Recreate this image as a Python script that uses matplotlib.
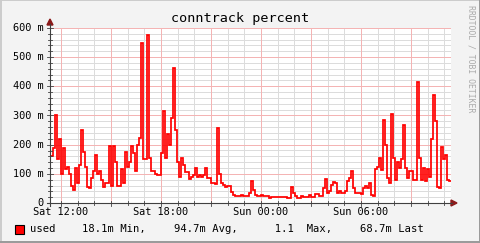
import matplotlib
matplotlib.use("Agg")
import matplotlib.pyplot as plt
from matplotlib.lines import Line2D
from matplotlib.patches import Polygon, Rectangle
import numpy as np

# ---------------- data ----------------
title = "conntrack percent"
series_name = "used"
start_hour = 11.4          # hours since Sat 00:00
step_hours = 0.12          # sample interval (7.2 min)
used_m = [
    160, 190, 300, 150, 220, 100, 190, 115, 125, 100, 60, 45, 120, 70, 130, 250, 175, 125, 55, 50,
    85, 110, 165, 100, 110, 80, 55,
    70, 70, 196, 58, 196, 140, 58, 60, 115, 70, 176, 125, 140, 196, 170, 110, 200, 222, 548, 150,
    150, 576, 155, 110, 110, 100, 95,
    95, 170, 315, 155, 235, 200, 290, 463, 250, 140, 90, 153, 130, 105, 105, 84, 88, 95, 120, 90,
    95, 90, 95, 120, 85, 85, 68, 68,
    65, 257, 100, 70, 62, 56, 58, 60, 38, 28, 25, 25, 25, 28, 25, 25, 25, 33, 75, 45, 28, 25, 25,
    28, 25, 25,
    25, 18, 20, 22, 22, 22, 22, 22, 22, 22, 18, 18, 56, 33, 25, 18, 18, 25, 22, 22, 22, 28, 22, 22,
    30, 30, 25, 25, 52,
    82, 35, 42, 62, 72, 69, 35, 40, 33, 35, 40, 75, 87, 110, 50, 35, 35, 35, 30, 52, 57, 52, 67, 28,
    25, 117, 125, 153,
    113, 285, 199, 86, 69, 305, 153, 80, 140, 120, 150, 267, 120, 85, 110, 110, 80, 80, 415, 153,
    80, 120, 75, 115, 90, 220, 370, 280, 55, 52, 193, 150, 165, 80, 75,
]
y_ticks = [0, 100, 200, 300, 400, 500, 600]
y_tick_labels = ["0", "100 m", "200 m", "300 m", "400 m", "500 m", "600 m"]
x_ticks = [12, 18, 24, 30]
x_tick_labels = ["Sat 12:00", "Sat 18:00", "Sun 00:00", "Sun 06:00"]
legend_stats = ["18.1m Min,", "94.7m Avg,", "  1.1  Max,", "68.7m Last"]

# ---------------- figure ----------------
W, H = 481, 243
FONT = "DejaVu Sans Mono"
fig = plt.figure(figsize=(W / 100, H / 100), dpi=100, facecolor="#F3F3F3")


def fx(x):
    return x / W


def fy(y):
    return 1 - y / H


# 3D frame
fig.add_artist(Line2D([0, 1], [fy(0.5), fy(0.5)], color="#CBCBCB", lw=1.4, transform=fig.transFigure))
fig.add_artist(Line2D([fx(0.5), fx(0.5)], [0, 1], color="#CBCBCB", lw=1.4, transform=fig.transFigure))
fig.add_artist(Line2D([0, 1], [fy(242.3), fy(242.3)], color="#999999", lw=1.4, transform=fig.transFigure))
fig.add_artist(Line2D([fx(480.3), fx(480.3)], [0, 1], color="#999999", lw=1.4, transform=fig.transFigure))

ax = fig.add_axes([fx(50), fy(203), 401 / W, 175 / H])
ax.set_facecolor("white")

vals = np.array(used_m, dtype=float)
t = start_hour + step_hours * np.arange(len(vals) + 1)
v = np.append(vals, vals[-1])

x0 = 12 + (50 - 61) * 0.06
x1 = 12 + (451 - 61) * 0.06
ax.set_xlim(x0, x1)
ax.set_ylim(0, 600)

# grids
dot = (0, (0.72, 0.72))
minor_col = "#DCDCDC"
major_col = "#F4B4B4"
for h in np.arange(12, 36, 1.0):
    if h % 3 != 0:
        ax.axvline(h, color=minor_col, lw=0.72, linestyle=dot, zorder=1, antialiased=False)
for yv in np.arange(20, 600, 20):
    if yv % 100 != 0:
        ax.axhline(yv, color=minor_col, lw=0.72, linestyle=dot, zorder=1, antialiased=False)
for h in np.arange(12, 36, 3.0):
    ax.axvline(h, color=major_col, lw=0.72, linestyle=dot, zorder=1.5, antialiased=False)
for yv in y_ticks[1:]:
    ax.axhline(yv, color=major_col, lw=0.72, linestyle=dot, zorder=1.5, antialiased=False)

ax.step(t, v, where="post", color="#FF0000", lw=1.25, zorder=3, solid_joinstyle="miter")

for s in ax.spines.values():
    s.set_visible(False)
ax.set_xticks([])
ax.set_yticks([])

# axes lines, ticks and arrows (figure pixels)
axis_col = "#404040"
fig.add_artist(Line2D([fx(50), fx(50)], [fy(206), fy(24)], color=axis_col, lw=0.8, transform=fig.transFigure))
fig.add_artist(Line2D([fx(47), fx(452)], [fy(203), fy(203)], color=axis_col, lw=0.8, transform=fig.transFigure))
arrow_col = "#8B1A1A"
fig.add_artist(Polygon([[fx(47), fy(25)], [fx(53), fy(25)], [fx(50), fy(19)]], closed=True,
                       color=arrow_col, transform=fig.transFigure))
fig.add_artist(Polygon([[fx(451), fy(200)], [fx(451), fy(206)], [fx(457), fy(203)]], closed=True,
                       color=arrow_col, transform=fig.transFigure))

# tick marks
for yv in np.arange(0, 620, 20):
    ypx = 203 - yv * 175 / 600
    ln = 2 if yv % 100 else 3
    fig.add_artist(Line2D([fx(50 - ln), fx(50 + ln)], [fy(ypx), fy(ypx)], color=axis_col, lw=0.6,
                          transform=fig.transFigure))
for h in np.arange(12, 36, 1.0):
    xpx = 61 + (h - 12) / 0.06
    ln = 3 if h % 3 == 0 else 2
    fig.add_artist(Line2D([fx(xpx), fx(xpx)], [fy(203 - 2), fy(203 + ln)], color=axis_col, lw=0.6,
                          transform=fig.transFigure))

# tick labels
for yv, lab in zip(y_ticks, y_tick_labels):
    ypx = 203 - yv * 175 / 600
    fig.text(fx(44), fy(ypx), lab, ha="right", va="center", family=FONT, fontsize=7.4, color="black")
for h, lab in zip(x_ticks, x_tick_labels):
    xpx = 61 + (h - 12) / 0.06
    fig.text(fx(xpx), fy(212), lab, ha="center", va="center", family=FONT, fontsize=7.4, color="black")

# title
fig.text(fx(240), fy(18.5), title, ha="center", va="center", family=FONT, fontsize=9.7, color="black")

# side credit
fig.text(fx(471), fy(59), "RRDTOOL / TOBI OETIKER", rotation=270, ha="center", va="center",
         family=FONT, fontsize=5.9, color="#AAAAAA")

# legend
fig.add_artist(Rectangle((fx(15), fy(234)), 9 / W, 9 / H, facecolor="#FF0000", edgecolor="black",
                         lw=0.8, transform=fig.transFigure))
fig.text(fx(30), fy(229), series_name, ha="left", va="center", family=FONT, fontsize=7.6)
for xp, s in zip([82, 174, 262, 360], legend_stats):
    fig.text(fx(xp), fy(229), s, ha="left", va="center", family=FONT, fontsize=7.6)

fig.savefig("out.png", dpi=100, facecolor=fig.get_facecolor())
